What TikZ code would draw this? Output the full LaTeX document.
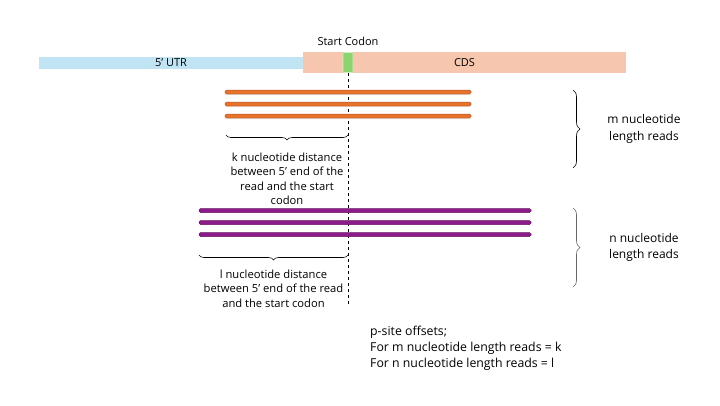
\documentclass[tikz,border=0pt]{standalone}
\usepackage{fontspec}
\setmainfont{Open Sans}
\usepackage{tikz}
\usetikzlibrary{positioning,decorations.pathreplacing}
\definecolor{utrblue}{RGB}{193,228,244}
\definecolor{cdspeach}{RGB}{246,199,174}
\definecolor{codongreen}{RGB}{140,212,110}
\definecolor{readorange}{RGB}{232,114,44}
\definecolor{readpurple}{RGB}{140,28,138}
\tikzset{
  region/.style={inner sep=0pt, minimum height=#1, font=\fontsize{11}{13}\selectfont},
  oread/.style={draw=readorange!75!black, fill=readorange, line width=0.5pt, rounded corners=1.5pt, minimum height=4pt, inner sep=0pt},
  pread/.style={draw=readpurple!75!black, fill=readpurple, line width=0.5pt, rounded corners=1.5pt, minimum height=4pt, inner sep=0pt},
  lbl/.style={align=center, font=\fontsize{11.2}{14.5}\selectfont, inner sep=0pt},
  grouplbl/.style={align=center, font=\fontsize{12}{16.5}\selectfont, inner sep=0pt},
  brc/.style={decorate, decoration={brace, amplitude=5pt}, line width=0.6pt}
}
\begin{document}
\begin{tikzpicture}[x=1pt, y=-1pt]
  \useasboundingbox (0,0) rectangle (720,405);
  % transcript
  \node[region=12pt, fill=utrblue, minimum width=264pt] (utr) at (171,63) {5’ UTR};
  \node[region=21pt, fill=cdspeach, minimum width=323pt] (cds) at (464.5,62.5) {CDS};
  \node[draw=codongreen!40!white, fill=codongreen, rounded corners=1pt, minimum width=10pt, minimum height=20pt, inner sep=0pt, line width=0.6pt] (codon) at (348,62.5) {};
  \node[region=0pt, above=6pt of codon] (codonlbl) {Start Codon};
  \coordinate (dashend) at (348,306);
  \draw[dashed, line width=0.6pt] (codon.south) -- (dashend);
  % m nucleotide reads
  \node[oread, minimum width=246pt] (m1) at (348,92) {};
  \node[oread, minimum width=246pt, below=7.5pt of m1] (m2) {};
  \node[oread, minimum width=246pt, below=7.5pt of m2] (m3) {};
  \coordinate (kleft) at (226,135);
  \coordinate (kright) at (348,135);
  \draw[brc] (kright) -- (kleft) node[midway, below=6pt] (kbrace) {};
  \node[lbl, below=8pt of kbrace.center] (klbl) {k nucleotide distance\\between 5’ end of the\\read and the start\\codon};
  % n nucleotide reads
  \node[pread, minimum width=332pt] (n1) at (365,210.5) {};
  \node[pread, minimum width=332pt, below=7.5pt of n1] (n2) {};
  \node[pread, minimum width=332pt, below=7.5pt of n2] (n3) {};
  \coordinate (lleft) at (199,255);
  \coordinate (lright) at (348,255);
  \draw[brc] (lright) -- (lleft) node[midway, below=6pt] (lbrace) {};
  \node[lbl, below=5pt of lbrace.center] (llbl) {l nucleotide distance\\between 5’ end of the read\\and the start codon};
  % read groups
  \coordinate (mtop) at (573,90);
  \coordinate (mbot) at (573,168);
  \draw[brc, decoration={amplitude=7pt}] (mtop) -- (mbot);
  \node[grouplbl] (mlbl) at (644,129) {m nucleotide\\length reads};
  \coordinate (ntop) at (573,208);
  \coordinate (nbot) at (573,287);
  \draw[brc, draw=black!60, decoration={amplitude=7pt}] (ntop) -- (nbot);
  \node[grouplbl] (nlbl) at (644,247.5) {n nucleotide\\length reads};
  % offsets
  \node[grouplbl, align=left, anchor=north west, font=\fontsize{12.3}{16}\selectfont] (offsets) at (370,326) {p-site offsets;\\For m nucleotide length reads = k\\For n nucleotide length reads = l};
\end{tikzpicture}
\end{document}
